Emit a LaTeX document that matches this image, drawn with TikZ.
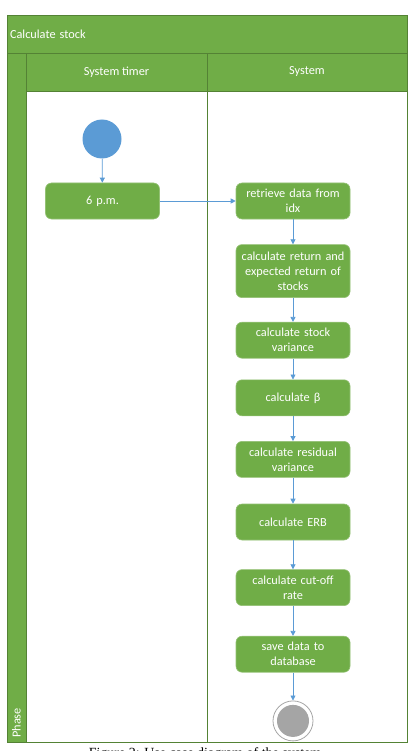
\documentclass[tikz,border=0pt]{standalone}
\usepackage{fontspec}
\setmainfont{Carlito}
\newfontfamily\capfont{Liberation Serif}
\usetikzlibrary{arrows.meta,positioning}
\definecolor{lgreen}{RGB}{112,173,71}
\definecolor{dgreen}{RGB}{84,130,53}
\definecolor{fblue}{RGB}{91,155,213}
\definecolor{egray}{RGB}{165,165,165}

\begin{document}
\begin{tikzpicture}[x=1pt, y=-1pt,
  font=\fontsize{12.3}{15}\selectfont,
  lane/.style={draw=dgreen, line width=0.8pt, inner sep=0pt, outer sep=0pt},
  head/.style={lane, fill=lgreen, text=white},
  act/.style={fill=lgreen, draw=lgreen!75!white, line width=0.6pt,
              rounded corners=6pt, text=white, align=center,
              text width=110pt, inner xsep=2pt, inner ysep=2pt,
              minimum height=36pt},
  ar/.style={-{Triangle[length=5pt, width=5pt]}, draw=fblue, line width=0.8pt}]
\useasboundingbox (0,0) rectangle (411,751);

% --- swimlane frame
\node[head, minimum width=400pt, minimum height=38pt, text width=394pt,
      align=left] (title) at (207,34) {Calculate stock};
\node[head, minimum width=19pt, minimum height=689pt] (phase) at (16.5,397.5) {};
\node[rotate=90, anchor=west, text=white, inner sep=0pt] (phlbl) at (16.5,738) {Phase};
\node[head, minimum width=181pt, minimum height=38pt] (h1) at (116.5,72) {System timer};
\node[head, minimum width=200pt, minimum height=38pt] (h2) at (307,72) {System};
\node[lane, minimum width=181pt, minimum height=651pt] (l1) at (116.5,416.5) {};
\node[lane, minimum width=200pt, minimum height=651pt] (l2) at (307,416.5) {};

% --- system timer lane
\node[circle, fill=fblue, minimum size=39pt, inner sep=0pt] (start) at (102,139) {};
\node[act] (pm6) at (102.5,201) {6 p.m.};

% --- system lane
\node[act] (fetch) at (293,201) {retrieve data from\\idx};
\node[act, minimum height=53pt, below=25pt of fetch] (ret) {calculate return and\\expected return of\\stocks};
\node[act, below=24pt of ret] (svar) {calculate stock\\variance};
\node[act, below=21pt of svar] (beta) {calculate β};
\node[act, below=25pt of beta] (rvar) {calculate residual\\variance};
\node[act, below=26pt of rvar] (erb) {calculate ERB};
\node[act, below=29pt of erb] (cut) {calculate cut-off\\rate};
\node[act, below=30pt of cut] (save) {save data to\\database};
\node[circle, draw=egray, line width=0.8pt, minimum size=40pt, inner sep=0pt,
      below=28pt of save] (stop) {};
\node[circle, fill=egray, minimum size=32pt, inner sep=0pt] (stopin) at (stop) {};

\draw[ar] (start) -- (pm6);
\draw[ar] (pm6) -- (fetch);
\foreach \a/\b in {fetch/ret, ret/svar, svar/beta, beta/rvar, rvar/erb,
                   erb/cut, cut/save, save/stop}
  \draw[ar] (\a) -- (\b);

% --- caption, cut off by the page edge
\begin{scope}
\clip (0,0) rectangle (411,751);
\node[font=\capfont\fontsize{14}{16}\selectfont, anchor=base] (cap) at (205,757)
  {Figure 2: Use case diagram of the system};
\end{scope}
\end{tikzpicture}
\end{document}
